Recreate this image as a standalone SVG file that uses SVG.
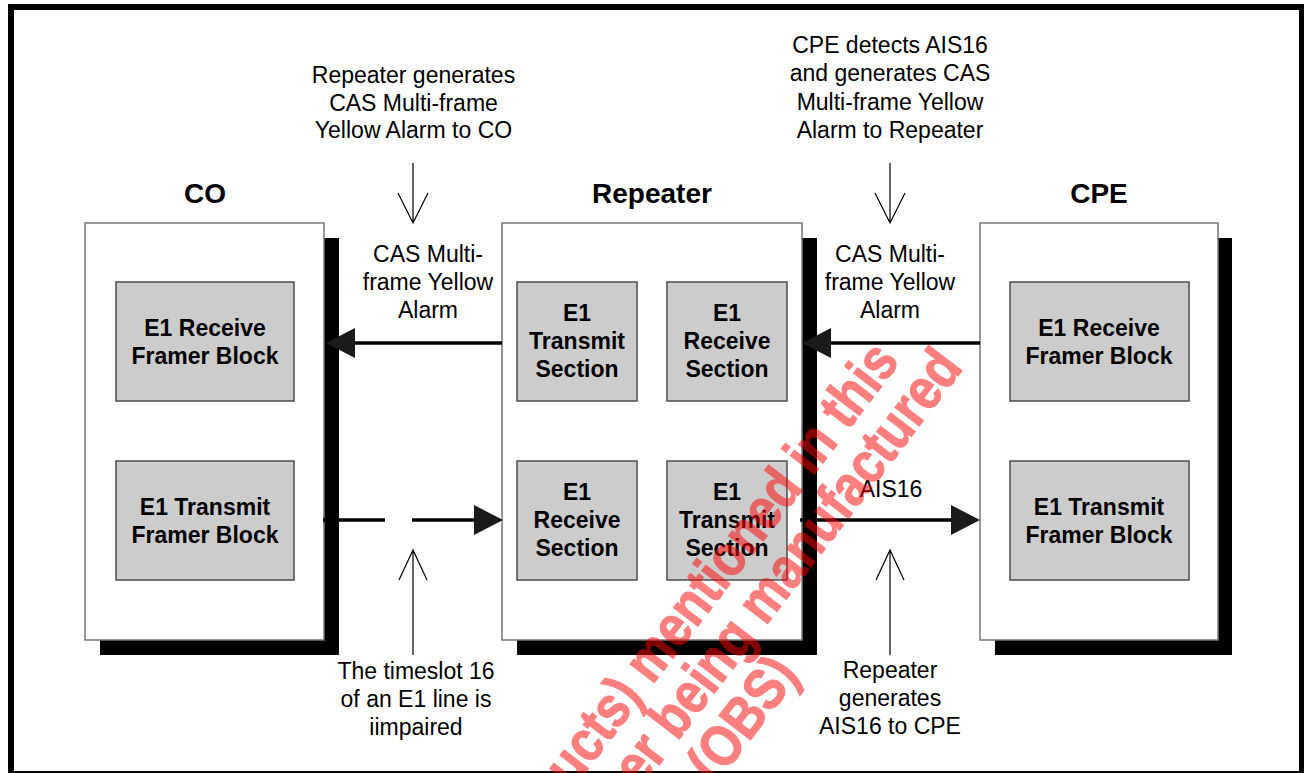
<svg xmlns="http://www.w3.org/2000/svg" width="1304" height="773" viewBox="0 0 1304 773">
<style>
.box{fill:#ffffff;stroke:#777777;stroke-width:1.5}
.sh{fill:#000000}
.blk{fill:#cccccc;stroke:#4d4d4d;stroke-width:1.5}
.t{font-family:"Liberation Sans",Arial,sans-serif;font-size:23px;fill:#000;text-anchor:middle}
.b{font-weight:bold}
.h{font-family:"Liberation Sans",Arial,sans-serif;font-size:28px;font-weight:bold;fill:#000;text-anchor:middle}
.ln{stroke:#000;stroke-width:3.5;fill:none}
.thin{stroke:#000;stroke-width:1.2;fill:none}
.head{fill:#1a1a1a}
.wm{font-family:"Liberation Sans",Arial,sans-serif;font-size:58px;font-weight:bold;fill:#ff0000;stroke:#ff0000;stroke-width:1.2;text-anchor:end}
</style>
<rect width="1304" height="773" fill="#ffffff"/>
<g id="frame">
<rect x="8" y="4" width="1296" height="6" fill="#000"/>
<rect x="8" y="4" width="6" height="769" fill="#000"/>
<rect x="1299" y="4" width="5" height="769" fill="#000"/>
<rect x="8" y="771" width="1296" height="2" fill="#000"/>
</g>
<g id="co">
<rect class="sh" x="100" y="238" width="239" height="417"/>
<rect class="box" x="85" y="223" width="239" height="417"/>
<text class="h" x="205" y="203">CO</text>
</g>
<g id="co-rx">
<rect class="blk" x="116" y="282" width="178" height="119"/>
<text class="t b" x="205" y="336">E1 Receive</text>
<text class="t b" x="205" y="364">Framer Block</text>
</g>
<g id="co-tx">
<rect class="blk" x="116" y="461" width="178" height="119"/>
<text class="t b" x="205" y="515">E1 Transmit</text>
<text class="t b" x="205" y="543">Framer Block</text>
</g>
<g id="repeater">
<rect class="sh" x="517" y="238" width="300" height="417"/>
<rect class="box" x="502" y="223" width="300" height="417"/>
<text class="h" x="652" y="203">Repeater</text>
</g>
<g id="rep-tx1">
<rect class="blk" x="517" y="282" width="120" height="119"/>
<text class="t b" x="577" y="321">E1</text>
<text class="t b" x="577" y="349">Transmit</text>
<text class="t b" x="577" y="377">Section</text>
</g>
<g id="rep-rx1">
<rect class="blk" x="667" y="282" width="120" height="119"/>
<text class="t b" x="727" y="321">E1</text>
<text class="t b" x="727" y="349">Receive</text>
<text class="t b" x="727" y="377">Section</text>
</g>
<g id="rep-rx2">
<rect class="blk" x="517" y="461" width="120" height="119"/>
<text class="t b" x="577" y="500">E1</text>
<text class="t b" x="577" y="528">Receive</text>
<text class="t b" x="577" y="556">Section</text>
</g>
<g id="rep-tx2">
<rect class="blk" x="667" y="461" width="120" height="119"/>
<text class="t b" x="727" y="500">E1</text>
<text class="t b" x="727" y="528">Transmit</text>
<text class="t b" x="727" y="556">Section</text>
</g>
<g id="cpe">
<rect class="sh" x="995" y="238" width="237" height="417"/>
<rect class="box" x="980" y="223" width="238" height="417"/>
<text class="h" x="1099" y="203">CPE</text>
</g>
<g id="cpe-rx">
<rect class="blk" x="1010" y="282" width="179" height="119"/>
<text class="t b" x="1099" y="336">E1 Receive</text>
<text class="t b" x="1099" y="364">Framer Block</text>
</g>
<g id="cpe-tx">
<rect class="blk" x="1010" y="461" width="179" height="119"/>
<text class="t b" x="1099" y="515">E1 Transmit</text>
<text class="t b" x="1099" y="543">Framer Block</text>
</g>
<g id="connectors">
<line class="ln" x1="502" y1="343" x2="350" y2="343"/>
<polygon class="head" points="326,343 355,328 355,358"/>
<line class="ln" x1="980" y1="343" x2="826" y2="343"/>
<polygon class="head" points="802,343 831,328 831,358"/>
<line class="ln" x1="323" y1="520" x2="385" y2="520"/>
<line class="ln" x1="412" y1="520" x2="478" y2="520"/>
<polygon class="head" points="503,520 474,505 474,535"/>
<line class="ln" x1="800" y1="520" x2="955" y2="520"/>
<polygon class="head" points="980,520 951,505 951,535"/>
<path class="thin" d="M413,163 V223 M398,193 L413,223 L428,193"/>
<path class="thin" d="M890,163 V223 M875,193 L890,223 L905,193"/>
<path class="thin" d="M413,655 V550 M399,580 L413,550 L427,580"/>
<path class="thin" d="M890,655 V550 M876,580 L890,550 L904,580"/>
</g>
<g id="labels">
<text class="t" x="413.5" y="83">Repeater generates</text>
<text class="t" x="413.5" y="110.5">CAS Multi-frame</text>
<text class="t" x="413.5" y="138">Yellow Alarm to CO</text>
<text class="t" x="890" y="53">CPE detects AIS16</text>
<text class="t" x="890" y="81.3">and generates CAS</text>
<text class="t" x="890" y="109.7">Multi-frame Yellow</text>
<text class="t" x="890" y="138">Alarm to Repeater</text>
<text class="t" x="428" y="262">CAS Multi-</text>
<text class="t" x="428" y="290">frame Yellow</text>
<text class="t" x="428" y="318">Alarm</text>
<text class="t" x="890" y="262">CAS Multi-</text>
<text class="t" x="890" y="290">frame Yellow</text>
<text class="t" x="890" y="318">Alarm</text>
<text class="t" x="891" y="497">AIS16</text>
<text class="t" x="416" y="679">The timeslot 16</text>
<text class="t" x="416" y="707">of an E1 line is</text>
<text class="t" x="416" y="735">iimpaired</text>
<text class="t" x="890" y="678">Repeater</text>
<text class="t" x="890" y="706">generates</text>
<text class="t" x="890" y="734">AIS16 to CPE</text>
</g>
<g id="watermark" opacity="0.5" transform="translate(964,368) rotate(-52.5) scale(0.85,1)">
<text class="wm" x="-39.5" y="-54">ucts) mentioned in this</text>
<text class="wm" x="0" y="0">er being manufactured</text>
<text class="wm" x="-404" y="57">l (OBS)</text>
</g>
</svg>
